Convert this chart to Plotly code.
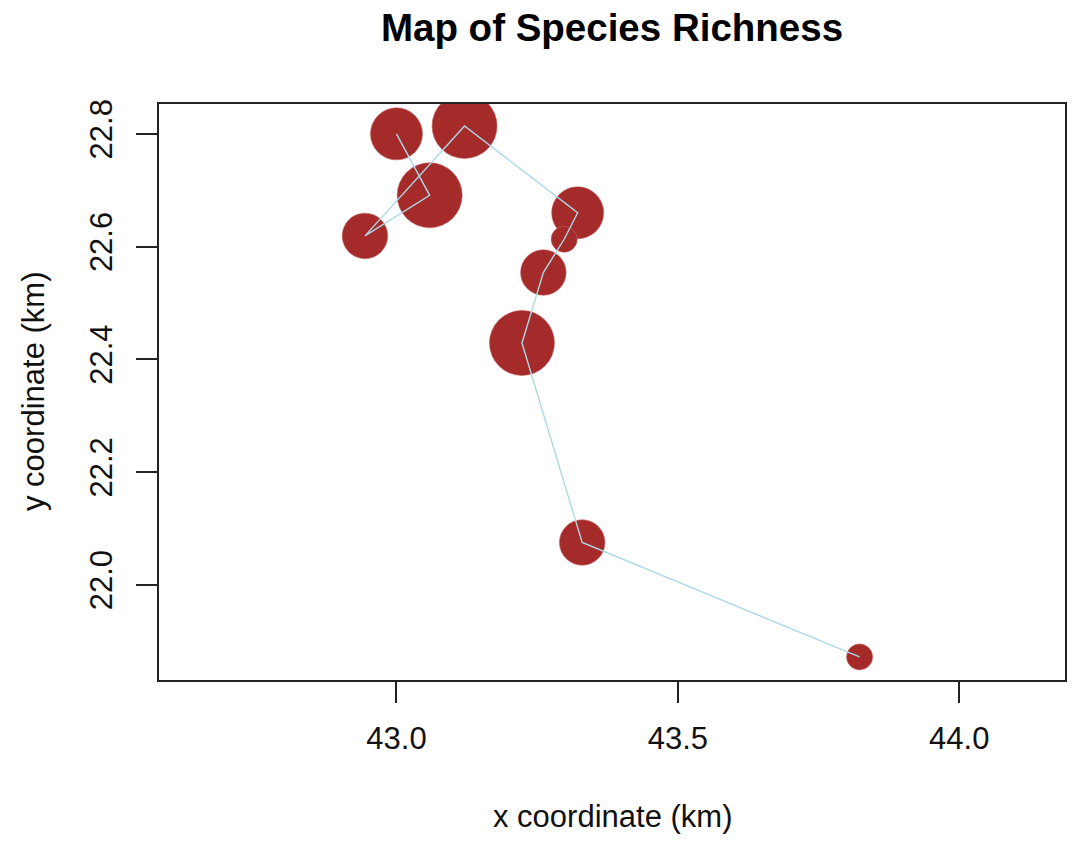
import plotly.graph_objects as go

# Site coordinates (km), in sampling order, and species richness at each site
x_km = [43.000, 43.059, 42.944, 43.121, 43.322, 43.298, 43.261, 43.223, 43.330, 43.823]
y_km = [22.800, 22.691, 22.619, 22.814, 22.660, 22.613, 22.554, 22.429, 22.075, 21.872]
richness = [8, 10, 7, 10, 8, 4, 7, 10, 7, 4]

x_ticks = [43.0, 43.5, 44.0]
x_tick_labels = ["43.0", "43.5", "44.0"]
y_ticks = [22.0, 22.2, 22.4, 22.6, 22.8]
y_tick_labels = ["22.0", "22.2", "22.4", "22.6", "22.8"]

PX_PER_UNIT = 6.5  # marker diameter (px) per richness unit

fig = go.Figure()
fig.add_trace(go.Scatter(
    x=x_km, y=y_km, mode="markers",
    marker=dict(size=[r * PX_PER_UNIT for r in richness], color="#A52A2A",
                line=dict(width=0.6, color="#C06060"), opacity=1),
    showlegend=False, hoverinfo="skip"))
fig.add_trace(go.Scatter(
    x=x_km, y=y_km, mode="lines",
    line=dict(color="#ADD8E6", width=1.4),
    showlegend=False, hoverinfo="skip"))

axis_font = dict(family="Liberation Sans, Arial, sans-serif", size=31, color="#111111")

fig.update_layout(
    width=1075, height=846,
    margin=dict(l=159, r=8, t=104, b=166),
    paper_bgcolor="white", plot_bgcolor="white",
    title=dict(text="<b>Map of Species Richness</b>", x=0.5, xref="paper",
               y=1 - 28 / 846, yref="container", yanchor="middle", xanchor="center",
               font=dict(family="Liberation Sans, Arial, sans-serif", size=38.5, color="black")),
    xaxis=dict(range=[42.578, 44.188], tickvals=x_ticks, ticktext=x_tick_labels,
               ticks="outside", ticklen=21, tickwidth=2, tickcolor="#222222",
               showline=True, linewidth=2, linecolor="#222222", mirror=True,
               showgrid=False, zeroline=False, tickfont=axis_font,
               ticklabelstandoff=9),
    yaxis=dict(range=[21.831, 22.853], tickvals=y_ticks, ticktext=y_tick_labels,
               ticks="outside", ticklen=21, tickwidth=2, tickcolor="#222222",
               showline=True, linewidth=2, linecolor="#222222", mirror=True,
               showgrid=False, zeroline=False, tickfont=axis_font, tickangle=-90,
               ticklabelstandoff=12),
    annotations=[
        dict(text="x coordinate (km)", xref="paper", yref="paper", x=0.5, y=0,
             yshift=-(817 - 680.5), showarrow=False, xanchor="center", yanchor="middle",
             font=axis_font),
        dict(text="y coordinate (km)", xref="paper", yref="paper", x=0, y=0.5,
             xshift=-(159 - 33), showarrow=False, xanchor="center", yanchor="middle",
             textangle=-90, font=axis_font),
    ],
)

fig.write_html("out.html")
